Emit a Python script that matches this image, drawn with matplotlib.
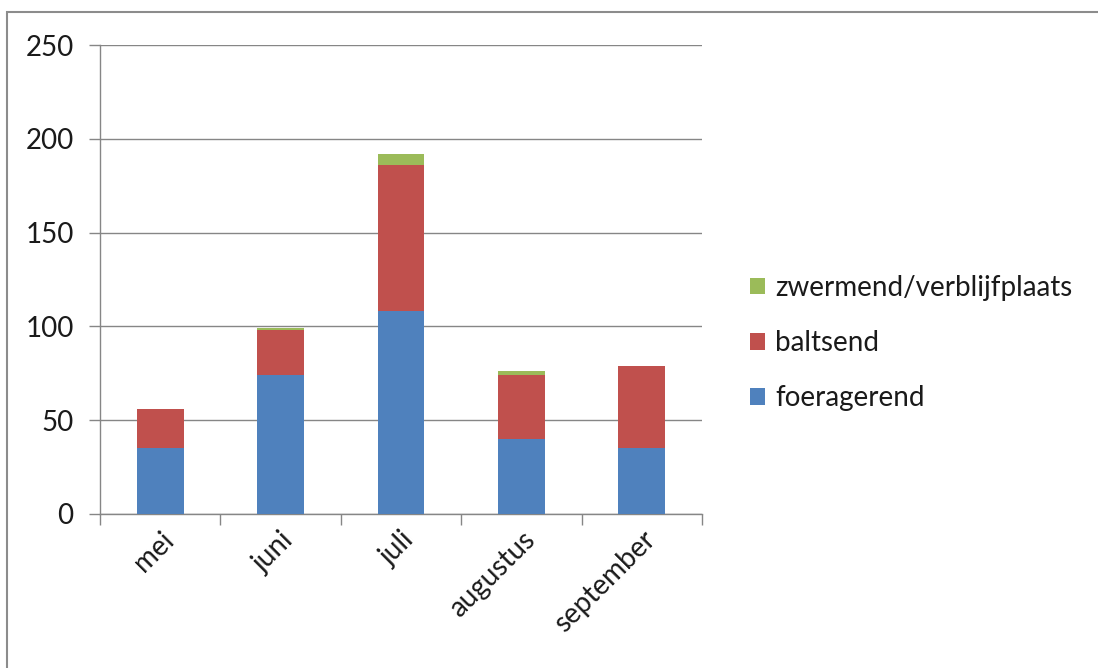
import matplotlib
matplotlib.use("Agg")
import matplotlib.pyplot as plt
import numpy as np
from matplotlib.patches import Rectangle

months = ["mei", "juni", "juli", "augustus", "september"]
foeragerend = [35, 74, 108, 40, 35]
baltsend = [21, 24, 78, 34, 44]
zwermend = [0, 1, 6, 2, 0]
y_ticks = [0, 50, 100, 150, 200, 250]

plt.rcParams["font.family"] = ["Lato", "DejaVu Sans"]

BLUE = "#4F81BD"
RED = "#C0504D"
GREEN = "#9BBB59"
GRID = "#868686"
TEXT = "#1a1a1a"
FS = 20

fig = plt.figure(figsize=(10.98, 6.68), dpi=100)
W, H = 1098, 668
ax = fig.add_axes([100 / W, 1 - 514 / H, 602 / W, 469 / H])

x = np.arange(len(months))
w = 0.39
b1 = ax.bar(x, foeragerend, w, color=BLUE, label="foeragerend", zorder=3)
bottom2 = np.array(foeragerend)
b2 = ax.bar(x, baltsend, w, bottom=bottom2, color=RED, label="baltsend", zorder=3)
bottom3 = bottom2 + np.array(baltsend)
b3 = ax.bar(x, zwermend, w, bottom=bottom3, color=GREEN,
            label="zwermend/verblijfplaats", zorder=3)

ax.set_xlim(-0.5, len(months) - 0.5)
ax.set_ylim(0, 250)
ax.set_yticks(y_ticks)
ax.yaxis.grid(True, color=GRID, linewidth=1.0, zorder=0)
ax.tick_params(axis="y", length=8, width=1, color=GRID, labelsize=FS,
               labelcolor=TEXT, pad=11)

# category boundaries carry the tick marks, centers carry the labels
ax.set_xticks(np.arange(-0.5, len(months), 1.0))
ax.set_xticklabels([])
ax.tick_params(axis="x", which="major", length=8, width=1, color=GRID)
ax.set_xticks(x, minor=True)
ax.set_xticklabels(months, minor=True, rotation=45, ha="right",
                   rotation_mode="anchor", fontsize=FS, color=TEXT)
ax.tick_params(axis="x", which="minor", length=0, pad=9)

for s in ["top", "right"]:
    ax.spines[s].set_visible(False)
for s in ["left", "bottom"]:
    ax.spines[s].set_color(GRID)
    ax.spines[s].set_linewidth(1.0)

leg = fig.legend(handles=[b3, b2, b1],
                 labels=["zwermend/verblijfplaats", "baltsend", "foeragerend"],
                 loc="center left", bbox_to_anchor=(725 / W, 1 - 343 / H),
                 frameon=False, fontsize=FS, handlelength=0.55,
                 handleheight=0.55, handletextpad=0.35, labelspacing=1.05)
for t in leg.get_texts():
    t.set_color(TEXT)

# outer chart border (top and left edges visible)
fig.add_artist(Rectangle((7 / W, -0.05), 1.2, 1 - 12 / H + 0.05,
                         transform=fig.transFigure, fill=False,
                         edgecolor="#8c8c8c", linewidth=1.5))

fig.savefig("out.png", dpi=100)
